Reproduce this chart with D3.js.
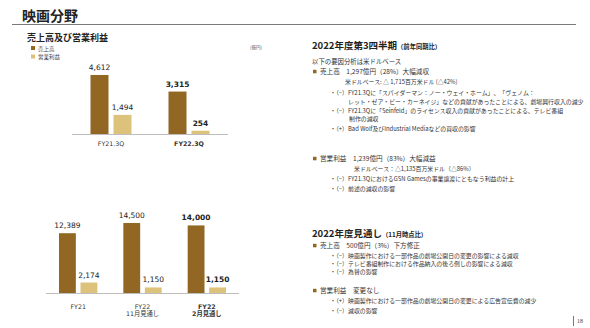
<!DOCTYPE html>
<html>
<head>
<meta charset="utf-8">
<script src="https://cdn.jsdelivr.net/npm/d3@7"></script>
<style>
  body { margin: 0; background: #fff; }
  svg { display: block; }
  .jp { font-family: "Noto Sans CJK JP", "Noto Sans", sans-serif; }
  .num { font-family: "DejaVu Sans", "Noto Sans CJK JP", sans-serif; }
</style>
</head>
<body>
<svg id="chart" width="590" height="328"></svg>
<script>
// Chart data
const seriesNames = ['売上高', '営業利益'];
const seriesColors = ['#926724', '#dcc27a'];

const quarterCats = ['FY21.3Q', 'FY22.3Q'];
const quarterSales = [4612, 3315];
const quarterProfit = [1494, 254];

const yearCats = ['FY21', 'FY22|11月見通し', 'FY22|2月見通し'];
const yearSales = [12389, 14500, 14000];
const yearProfit = [2174, 1150, 1150];

// Right-side text (kind: h = heading, p = plain, sq = square bullet, i1/i2 = indent levels)
const textLines = [
  { kind: 'h', text: '2022年度第3四半期', sub: '（前年同期比）', y: 49 },
  { kind: 'p', text: '以下の要因分析は米ドルベース', y: 64 },
  { kind: 'sq', text: '売上高　1,297億円（28%）大幅減収', y: 74 },
  { kind: 'i2', text: '米ドルベース: △ 1,715百万米ドル (△42%)', y: 84, x: 345 },
  { kind: 'i1', text: '・（−）FY21.3Qに「スパイダーマン：ノー・ウェイ・ホーム」、「ヴェノム：', y: 95 },
  { kind: 'i2', text: 'レット・ゼア・ビー・カーネイジ」などの貢献があったことによる、劇場興行収入の減少', y: 104, x: 348 },
  { kind: 'i1', text: '・（−）FY21.3Qに「Seinfeld」のライセンス収入の貢献があったことによる、テレビ番組', y: 113 },
  { kind: 'i2', text: '制作の減収', y: 121, x: 349 },
  { kind: 'i1', text: '・（+）Bad Wolf及びIndustrial Mediaなどの買収の影響', y: 131 },
  { kind: 'sq', text: '営業利益　1,239億円（83%）大幅減益', y: 161 },
  { kind: 'i2', text: '米ドルベース：△1,135百万米ドル（△86%）', y: 171, x: 354 },
  { kind: 'i1', text: '・（−）FY21.3QにおけるGSN Gamesの事業譲渡にともなう利益の計上', y: 181 },
  { kind: 'i1', text: '・（−）前述の減収の影響', y: 191 },
  { kind: 'h', text: '2022年度見通し', sub: '（11月時点比）', y: 236.5 },
  { kind: 'sq', text: '売上高　500億円（3%）下方修正', y: 248 },
  { kind: 'i1', text: '・（−）映画製作における一部作品の劇場公開日の変更の影響による減収', y: 257.5 },
  { kind: 'i1', text: '・（−）テレビ番組制作における作品納入の後ろ倒しの影響による減収', y: 265.5 },
  { kind: 'i1', text: '・（−）為替の影響', y: 273.5 },
  { kind: 'sq', text: '営業利益　変更なし', y: 293 },
  { kind: 'i1', text: '・（+）映画製作における一部作品の劇場公開日の変更による広告宣伝費の減少', y: 303 },
  { kind: 'i1', text: '・（−）減収の影響', y: 313 }
];

const svg = d3.select('#chart');

// Page header
svg.append('text').attr('class', 'jp')
  .attr('x', 22).attr('y', 21)
  .attr('font-size', 14).attr('font-weight', 700).attr('fill', '#222')
  .text('映画分野');
svg.append('line')
  .attr('x1', 12).attr('x2', 576).attr('y1', 24.5).attr('y2', 24.5)
  .attr('stroke', '#7a7a7a').attr('stroke-width', 1);

// Chart title + legend
svg.append('text').attr('class', 'jp')
  .attr('x', 27).attr('y', 41)
  .attr('font-size', 9).attr('font-weight', 700).attr('fill', '#222')
  .text('売上高及び営業利益');

seriesNames.forEach((name, i) => {
  svg.append('rect')
    .attr('x', 31).attr('y', 46 + i * 8.5).attr('width', 4).attr('height', 4)
    .attr('fill', seriesColors[i]);
  svg.append('text').attr('class', 'jp')
    .attr('x', 38).attr('y', 50.5 + i * 8.5)
    .attr('font-size', 5.5).attr('fill', '#444')
    .text(name);
});

svg.append('text').attr('class', 'jp')
  .attr('x', 250).attr('y', 49)
  .attr('font-size', 4.5).attr('fill', '#555')
  .text('(億円)');

// Grouped bar chart helper
function drawBars(cfg) {
  const x0 = d3.scaleBand()
    .domain(cfg.cats)
    .range([cfg.left, cfg.right])
    .paddingInner(0).paddingOuter(0);

  const x1 = d3.scaleBand()
    .domain(seriesNames)
    .range([cfg.innerStart, x0.bandwidth() - cfg.innerStart])
    .paddingInner(0.217);

  const y = d3.scaleLinear()
    .domain([0, cfg.max])
    .range([cfg.base, cfg.base - cfg.span]);

  const g = svg.append('g');

  cfg.cats.forEach((cat, ci) => {
    const vals = [cfg.sales[ci], cfg.profit[ci]];
    const bold = cfg.boldLast && ci === cfg.cats.length - 1;
    vals.forEach((v, si) => {
      const bx = x0(cat) + x1(seriesNames[si]);
      g.append('rect')
        .attr('x', bx).attr('y', y(v))
        .attr('width', x1.bandwidth()).attr('height', y(0) - y(v))
        .attr('fill', seriesColors[si]);
      g.append('text').attr('class', 'num')
        .attr('x', bx + x1.bandwidth() / 2).attr('y', y(v) - 5)
        .attr('text-anchor', 'middle')
        .attr('font-size', 7.5).attr('fill', '#222')
        .attr('font-weight', bold ? 700 : 400)
        .text(d3.format(',')(v));
    });
  });

  // baseline
  g.append('line')
    .attr('x1', cfg.left).attr('x2', cfg.right)
    .attr('y1', y(0) + 0.5).attr('y2', y(0) + 0.5)
    .attr('stroke', '#bdbdbd').attr('stroke-width', 1);

  // category labels
  cfg.cats.forEach((cat, ci) => {
    const bold = cfg.boldLast && ci === cfg.cats.length - 1;
    const parts = cat.split('|');
    parts.forEach((p, pi) => {
      g.append('text').attr('class', 'num')
        .attr('x', x0(cat) + x0.bandwidth() / 2)
        .attr('y', y(0) + cfg.labelOffset + pi * 7.5)
        .attr('text-anchor', 'middle')
        .attr('font-size', 6.3).attr('fill', '#333')
        .attr('font-weight', bold ? 700 : 400)
        .text(p);
    });
  });
}

drawBars({
  cats: quarterCats, sales: quarterSales, profit: quarterProfit,
  left: 72, right: 228, innerStart: 18.5,
  max: 5000, base: 134, span: 64, labelOffset: 11.5, boldLast: true
});

drawBars({
  cats: yearCats, sales: yearSales, profit: yearProfit,
  left: 46, right: 239, innerStart: 13,
  max: 15000, base: 293, span: 72.4, labelOffset: 15.5, boldLast: true
});

// Right-side text block
textLines.forEach(d => {
  if (d.kind === 'h') {
    const t = svg.append('text').attr('class', 'jp')
      .attr('x', 312).attr('y', d.y)
      .attr('font-weight', 700).attr('fill', '#222');
    t.append('tspan').attr('font-size', 9.5).text(d.text);
    t.append('tspan').attr('font-size', 6.3).text(d.sub);
  } else if (d.kind === 'sq') {
    svg.append('rect')
      .attr('x', 313).attr('y', d.y - 4.2).attr('width', 3.5).attr('height', 3.5)
      .attr('fill', seriesColors[0]);
    svg.append('text').attr('class', 'jp')
      .attr('x', 320).attr('y', d.y)
      .attr('font-size', 6.6).attr('fill', '#333')
      .text(d.text);
  } else {
    const x = d.kind === 'p' ? 312 : (d.kind === 'i1' ? 330 : d.x);
    svg.append('text').attr('class', 'jp')
      .attr('x', x).attr('y', d.y)
      .attr('font-size', d.kind === 'p' ? 6.4 : 5.9).attr('fill', '#333')
      .text(d.text);
  }
});

// Page number
svg.append('line')
  .attr('x1', 573.5).attr('x2', 573.5).attr('y1', 316).attr('y2', 326)
  .attr('stroke', '#555').attr('stroke-width', 0.8);
svg.append('text')
  .attr('x', 577).attr('y', 323)
  .attr('font-family', 'Liberation Serif, serif')
  .attr('font-size', 6).attr('fill', '#444')
  .text('18');
</script>
</body>
</html>
